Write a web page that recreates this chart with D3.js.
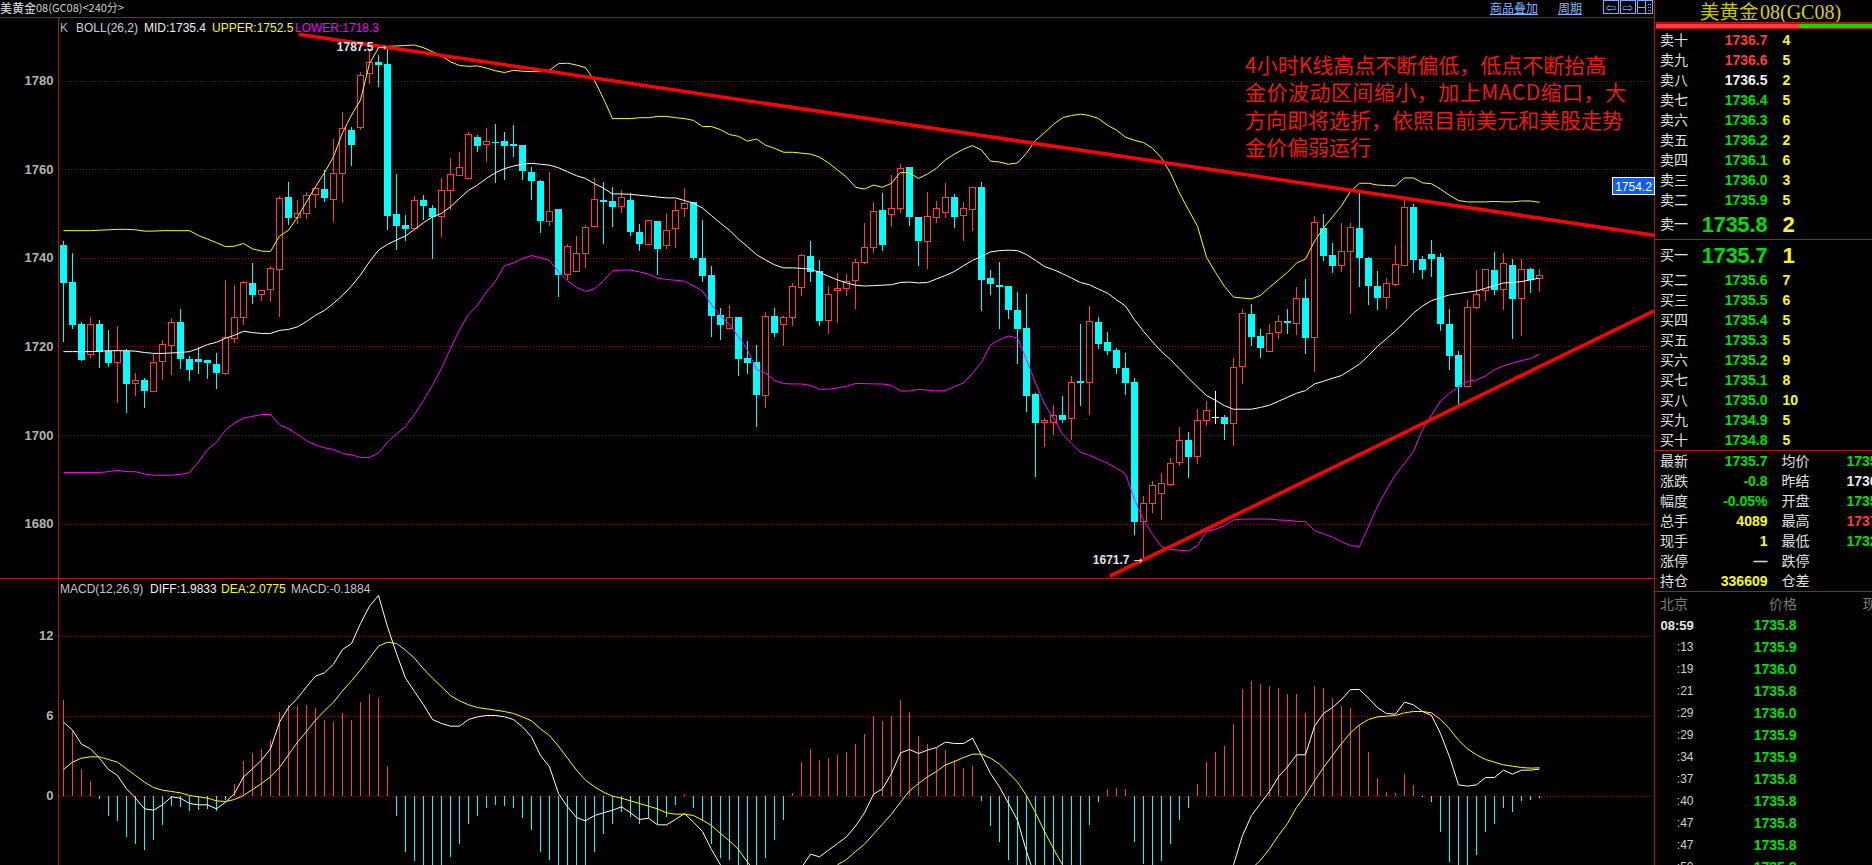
<!DOCTYPE html>
<html>
<head>
<meta charset="utf-8">
<script src="https://cdn.jsdelivr.net/npm/d3@7"></script>
<style>
  html, body { margin: 0; padding: 0; background: #000; overflow: hidden; }
  svg { display: block; }
  text { font-family: "Liberation Sans", "Noto Sans CJK SC", sans-serif; }
  .cjk { font-family: "Noto Sans CJK SC", sans-serif; }
  .axis path { display: none; }
  .axis line { stroke: #8c0a0a; stroke-dasharray: 1 2; shape-rendering: crispEdges; }
  .axis text { fill: #b4b4b4; font-size: 13px; font-weight: bold; }
</style>
</head>
<body>
<svg id="chart" width="1872" height="865"></svg>
<script>
// candles
const opens = [
  1742.8,1734.5,1725,1718.1,1725,1719,1716.3,1719,1711.5,1712.3,
  1709.9,1716.6,1720.1,1725.4,1717.2,1717.2,1716.8,1716.1,1713.8,1721.8,
  1726.5,1734.4,1731.6,1732.8,1737.3,1753.6,1749.1,1750,1754.3,1755.5,
  1753.1,1759,1768.8,1769.3,1781.5,1784.1,1783.7,1749.8,1747.3,1746.5,
  1753,1751.2,1749.2,1755.1,1758.5,1757.8,1767.2,1765.6,1766.2,1766.3,
  1765.6,1765.4,1759.3,1757.3,1748.1,1751,1736.1,1736.9,1740.9,1747,
  1753.1,1752.9,1751.6,1753.1,1745.9,1743,1748.3,1742.8,1746.5,1751,
  1752.6,1740,1736.1,1727.1,1724,1726.7,1717.4,1716.5,1708.9,1726.9,
  1724.9,1726.5,1733.3,1740.4,1737,1725.8,1732.6,1733.1,1734.9,1738.9,
  1742.2,1750.8,1749.8,1751,1760.4,1749.2,1743.7,1749.1,1750.2,1753.8,
  1749.5,1750.9,1756,1735.5,1733.9,1733.7,1728.2,1724.2,1709.3,1702.8,
  1702.7,1704.5,1703.7,1712.2,1711.8,1725.5,1721,1719.2,1715.2,1712,
  1680.4,1684.6,1686.8,1688.8,1693.8,1698.9,1695.1,1703.3,1704,1704.1,
  1702.6,1715.5,1727.3,1722.4,1718.8,1723.1,1725.8,1725.2,1731,1722,
  1746.8,1740.7,1738.3,1741.3,1746.8,1740,1733.7,1731,1733.9,1738.3,
  1751.5,1739.8,1740.9,1740.2,1725.1,1718.1,1710.9,1728.7,1732.5,1737.3,
  1732.8,1738.4,1730.8,1737.5,1735.3
];
const closes = [
  1734.3,1724.8,1716.9,1725,1718.8,1716.3,1719,1711.5,1712.3,1709.9,
  1716.3,1720.4,1725.4,1717.2,1714.7,1716.5,1716.3,1714,1722,1726.5,
  1734.4,1731.5,1732.6,1737.5,1753.4,1749,1750,1754,1755.6,1753.4,
  1759,1769.2,1765.5,1781.1,1784.1,1783.5,1749.4,1747.1,1746.4,1752.9,
  1751.6,1749.1,1755.2,1758.8,1760.4,1767.8,1765.3,1766.2,1766,1765.2,
  1765.2,1759.5,1757.4,1748.3,1750.4,1736.1,1742.5,1740.9,1746.8,1753.1,
  1752.6,1751.5,1753.7,1745.7,1743,1748.3,1742,1746.2,1750.7,1752.3,
  1740,1735.9,1726.9,1724.9,1726.6,1717.2,1716.3,1709.1,1726.8,1723.1,
  1726.6,1733.4,1740.4,1736.8,1725.8,1731.6,1733.1,1734.6,1739,1742.2,
  1750.5,1742.9,1751,1760.2,1749.2,1743.7,1749.2,1751,1753.5,1749.2,
  1751,1755.9,1735,1734.1,1733.4,1728.2,1724,1708.8,1702.7,1703.3,
  1704.4,1703.4,1711.9,1711.8,1725.5,1720.6,1719,1715,1711.8,1680.4,
  1684.6,1688.6,1689.1,1693.6,1698.8,1695.1,1703.3,1705.4,1704,1702.5,
  1715.3,1727.3,1722.2,1719.7,1723,1725.7,1725.3,1730.9,1721.9,1748,
  1740.4,1738.2,1741.5,1746.8,1740,1733.7,1731,1734.1,1738.4,1751.4,
  1739.5,1737.3,1739.8,1725.1,1717.9,1710.9,1728.8,1731.8,1737.4,1732.8,
  1738.6,1730.7,1737.4,1735,1735.9
];
const highs = [
  1743.7,1741,1725.4,1726.6,1725.9,1723.6,1724.5,1719.5,1713.9,1712.8,
  1718.2,1721.5,1726.4,1728.4,1717.9,1719.9,1717,1718.6,1734.9,1733.8,
  1734.8,1738.7,1732.8,1738.2,1754,1757,1753,1754.9,1756,1759.8,
  1766.7,1772.9,1769.5,1781.9,1786.8,1785.7,1787.5,1758.9,1749.6,1753.9,
  1754.1,1751.9,1758.1,1762.5,1763.8,1768.3,1767.7,1769.2,1770.1,1768.3,
  1769.9,1765.4,1760.4,1757.5,1759.3,1751,1743,1744.9,1747.3,1758,
  1757.2,1755.9,1755.3,1754.6,1747.7,1748.5,1748.3,1750.1,1753.1,1755.7,
  1752.6,1748.6,1738.2,1728.7,1729.4,1726.7,1721.2,1720.3,1727.8,1728.7,
  1726.9,1734.3,1740.9,1743.8,1739.5,1733.7,1736.5,1736.4,1739.7,1747.9,
  1752.6,1754.6,1758.6,1761.2,1760.5,1749.2,1754.9,1752.9,1756.9,1754.4,
  1752.6,1755.9,1757.1,1737.3,1739.1,1733.7,1732.3,1731.9,1709.5,1703.9,
  1706.8,1708.8,1713.3,1725.1,1729.2,1726.7,1723.2,1719.6,1718.5,1712.9,
  1686.2,1689.6,1691.3,1694.7,1701.8,1700.7,1705.9,1707.7,1710,1704.5,
  1717.3,1728.5,1729.6,1724,1725.1,1727.1,1728.5,1733.4,1735.2,1749.5,
  1749.9,1743.4,1747.9,1747.8,1755.1,1740.2,1737,1735.5,1742.9,1753.1,
  1752.2,1740.4,1744,1741.1,1728.5,1719,1730.5,1737.3,1737.4,1741.3,
  1741.1,1739.8,1739.8,1737.7,1737.5
];
const lows = [
  1721,1724,1716.7,1717.4,1715.1,1715.4,1707.2,1705,1708.8,1706.1,
  1709.7,1712.4,1713.5,1714.8,1712.2,1713.7,1712.6,1710.4,1713.6,1720.8,
  1724.8,1729.5,1730.3,1730,1726.7,1747.3,1747.7,1748.8,1751.3,1752.6,
  1748.1,1752.4,1760.7,1768.9,1779.2,1778.5,1746.2,1741.7,1743.8,1746.4,
  1748.5,1739.6,1744.7,1750.7,1758.5,1757.8,1763.8,1761.6,1756.9,1757.5,
  1762.7,1757.5,1753,1745.6,1747.1,1731.2,1734.9,1736.9,1737.6,1747,
  1743.1,1747,1750.1,1744.8,1741.4,1742.8,1736.1,1742,1742.2,1749.3,
  1739.4,1734.6,1722.2,1721.5,1724,1713.2,1713.8,1701.7,1706,1722.2,
  1720,1724.5,1731.3,1734.6,1724.5,1722.7,1725.3,1731.3,1728.5,1738.6,
  1741.1,1741.6,1747,1750,1747.2,1738.2,1737.5,1747.9,1749,1746.8,
  1743.8,1746.1,1728,1731.6,1724,1726.2,1716,1705.2,1690.4,1697.3,
  1700,1702.7,1698.9,1706.6,1704.5,1719.4,1718.1,1713.8,1709.1,1677.5,
  1671.7,1682.3,1680.8,1688.4,1693,1690.2,1693.5,1702.1,1702.5,1698.9,
  1697.5,1711.5,1720.1,1717.4,1718.8,1721.7,1722.8,1722.6,1718.3,1714.3,
  1739.3,1736.6,1736.8,1727.3,1733.4,1729.4,1728.2,1728.5,1733.7,1738.3,
  1736.6,1735.2,1735.7,1723.5,1714.7,1706.1,1710.9,1728.5,1730.3,1731.6,
  1728.2,1721.7,1722.4,1732.1,1732.3
];

// BOLL(26,2)
const bollMid = [
  1718.8,1718.8,1718.8,1718.8,1718.9,1719,1719,1719,1718.9,1718.6,
  1718.4,1718.4,1718.5,1718.6,1718.8,1719.5,1720.4,1720.9,1721.8,1722.5,
  1723.4,1723.1,1722.9,1722.9,1723.6,1723.8,1724.4,1725.6,1727,1728.1,
  1729.7,1731.5,1733.6,1736.1,1739.1,1741.7,1743,1744,1744.9,1746.4,
  1747.9,1749.2,1750,1751.5,1753.4,1755.2,1756.4,1757.9,1759.2,1760.1,
  1760.7,1761.1,1761.3,1761.1,1760.9,1760.3,1759.4,1758.5,1757.9,1756.7,
  1755.7,1754.4,1754.4,1754.3,1754.1,1753.9,1753.7,1753.5,1753.5,1752.9,
  1752.3,1751.2,1749.5,1747.8,1746.2,1744.2,1742.5,1740.7,1739.5,1738.4,
  1737.7,1737.7,1737.6,1737.4,1736.7,1735.8,1735,1734.3,1733.8,1733.6,
  1733.7,1733.8,1733.9,1734.4,1734.5,1734.3,1734.4,1735.2,1736,1736.9,
  1738.2,1739.4,1740.3,1741.3,1741.6,1741.7,1741.6,1740.7,1739.4,1738,
  1737.3,1736.4,1735.4,1734.4,1733.9,1732.9,1732,1730.5,1729.1,1726,
  1723.4,1721,1718.8,1717,1714.9,1712.8,1710.8,1708.9,1707.8,1706.6,
  1705.8,1705.8,1705.8,1706.2,1706.7,1707.6,1708.5,1709.4,1710,1711.5,
  1712.1,1712.8,1713.4,1714.7,1716,1717.9,1720,1721.7,1723.5,1725.4,
  1727.5,1729.1,1730.3,1731,1731.6,1731.9,1732.2,1732.5,1733.1,1733.7,
  1734.3,1734.4,1734.6,1735,1735.4
];
const bollUpper = [
  1746.1,1746.1,1746.1,1746.1,1746.2,1746.3,1746.4,1746.4,1746.3,1746,
  1746,1746.1,1746.1,1746.1,1746.1,1745,1744.2,1743.4,1742.5,1742.6,
  1743.2,1742,1741.5,1741.4,1744.9,1746.2,1749.2,1752.6,1756,1759.2,
  1762.8,1768.2,1772.2,1775.6,1783.8,1787.4,1787.7,1787.8,1787.9,1788,
  1787.4,1786.5,1785.6,1784.2,1783.4,1783.2,1783.3,1782.8,1782.2,1781.8,
  1782.3,1782.1,1782,1782,1782.3,1783.8,1783.9,1783.5,1782.9,1780,
  1775.9,1771.4,1771.4,1771.4,1771.6,1771.6,1771.9,1771.9,1771.6,1771.4,
  1771,1769.6,1769.6,1768.9,1767.8,1767.4,1766.3,1766.8,1765.4,1764.7,
  1763.8,1763.8,1763.6,1763.4,1762.7,1761.4,1759.8,1758.2,1755.9,1755.5,
  1756.4,1755.9,1756.8,1759.3,1759.1,1757.9,1758.9,1760.2,1762.1,1763.4,
  1764.5,1765.3,1764.3,1761.8,1761.6,1761.1,1761.4,1763.6,1766.5,1768.2,
  1770.1,1771.6,1772.1,1772.4,1772.1,1771.4,1769.9,1768.8,1767.2,1766.5,
  1766,1764.7,1762.5,1759.1,1754.6,1750.8,1747.1,1740.1,1736.7,1733.5,
  1731.1,1730.9,1730.7,1731.5,1733.3,1735,1736.7,1738.8,1739.7,1743.7,
  1746.7,1749.2,1751.7,1755,1756.8,1756.8,1756.4,1756.3,1756.2,1758,
  1758,1756.9,1756.7,1755.5,1754.1,1752.9,1752.6,1752.6,1752.6,1752.7,
  1752.6,1752.6,1752.8,1752.8,1752.5
];
const bollLower = [
  1691.5,1691.5,1691.5,1691.5,1691.5,1691.7,1692,1691.7,1691.7,1691.2,
  1690.9,1690.9,1690.9,1691.1,1691.5,1693.9,1696.7,1698.3,1701.1,1702.7,
  1703.8,1704.2,1704.6,1704.6,1702.3,1701.4,1700.1,1698.7,1697.7,1697.1,
  1696.7,1695.8,1695.5,1694.9,1694.9,1695.9,1698.4,1700.2,1701.9,1704.6,
  1707.8,1711.2,1715,1719.5,1723.7,1727.2,1729.3,1732.3,1734.7,1738.2,
  1738.8,1739.8,1740.5,1740,1739.4,1736.8,1734.8,1733.3,1732.4,1733,
  1734.8,1737,1737.2,1737.2,1736.8,1736.3,1735.4,1735.1,1734.9,1734.7,
  1733.6,1732.5,1729.4,1726.9,1724.9,1722.2,1719.2,1714.8,1714,1712.3,
  1711.6,1711.5,1711.5,1711.2,1710.3,1710.3,1710.6,1711,1711.6,1711.6,
  1711.5,1711.5,1711.2,1709.9,1709.9,1710.3,1710.1,1709.9,1710,1710.9,
  1711.7,1713.9,1716.4,1720.3,1721.5,1722.3,1721.9,1717,1711.7,1707,
  1703.8,1700.2,1698.1,1696.1,1695.4,1694.5,1693.6,1692.5,1691.2,1685.4,
  1680.8,1677.5,1674.8,1674.1,1674,1673.8,1675,1678.2,1678.7,1679.5,
  1680.8,1681,1681,1681,1681,1680.8,1680.7,1680.5,1680.4,1678.4,
  1677.7,1676.9,1675.9,1675,1674.8,1679.3,1683.9,1687.6,1691,1693.6,
  1696.3,1701.2,1704.5,1707.6,1709.4,1710.9,1712.1,1712.4,1713.3,1714.7,
  1715.6,1716.2,1716.8,1717.2,1718.3
];

// MACD(12,26,9), values under about -5.2 run off the bottom of the window
const diff = [
  5.5,4.9,3.85,3.5,2.8,1.95,1.5,0.5,-0.2,-1,
  -1.1,-0.7,-0.1,-0.2,-0.6,-0.7,-0.7,-1,-0.5,0.15,
  1.4,2,2.65,3.5,5.5,6.6,7.3,8.15,8.95,9.2,
  9.85,10.95,11.4,12.9,14.2,15,12.65,10.65,8.8,7.8,
  6.8,5.7,5.4,5.2,5.2,5.7,5.9,6,6,5.9,
  5.7,5.15,4.4,3,2.15,0.15,-0.85,-1.65,-1.9,-1.5,
  -1.3,-1.1,-0.85,-1.3,-1.8,-1.7,-2.2,-2.2,-1.8,-1.35,
  -2,-2.7,-4.05,-5.2,-6.2,-7.2,-8,-8.7,-9.2,-9.4,
  -8.5,-7,-5.4,-4.4,-4.6,-4.1,-3.6,-3.1,-2.3,-1.3,
  0.1,0.5,1.65,3.2,3.45,3.15,3.4,3.6,4,3.9,
  3.9,4.3,3,1.65,0.65,-0.6,-1.85,-4.2,-6.2,-7.5,
  -8.5,-9.5,-10.5,-11,-11.5,-11.6,-11.4,-11.2,-11,-11.5,
  -12,-12.5,-12.6,-12.2,-11.6,-11,-10.3,-9.4,-8.5,-7.6,
  -5.2,-3,-1.5,-0.6,0.3,1.4,2.15,3.05,3.05,5.2,
  6.15,6.6,7.2,7.95,7.95,7.3,6.6,6.15,6.1,7,
  6.8,6.3,6,4.65,2.9,0.8,0.7,0.8,1.35,1.35,
  1.9,1.6,1.9,1.9,1.98
];
const dea = [
  1.95,2.5,2.8,2.9,2.9,2.7,2.5,2,1.5,1,
  0.6,0.4,0.3,0.2,0,-0.1,-0.2,-0.4,-0.45,-0.3,
  0,0.45,0.9,1.4,2.1,3.05,4,4.8,5.65,6.35,
  7,7.85,8.6,9.4,10.3,11.2,11.5,11.4,10.9,10.3,
  9.5,8.8,8.15,7.5,7.1,6.8,6.6,6.5,6.4,6.3,
  6.15,5.9,5.6,5,4.5,3.7,2.8,1.9,1.15,0.65,
  0.25,-0.05,-0.2,-0.4,-0.6,-0.8,-1,-1.3,-1.4,-1.4,
  -1.5,-1.85,-2.25,-2.85,-3.4,-4.05,-5,-5.8,-6.4,-6.9,
  -7.3,-7.4,-7.3,-6.9,-6.6,-6.1,-5.2,-4.8,-4.2,-3.65,
  -2.9,-2.15,-1.4,-0.5,0.35,0.9,1.4,1.8,2.3,2.55,
  2.85,3.1,3.1,2.8,2.35,1.7,1,0,-1.3,-2.7,
  -4,-5.2,-6.2,-7.2,-7.9,-8.6,-9.1,-9.5,-9.8,-10,
  -10.3,-10.5,-10.8,-10.9,-10.8,-10.6,-10.4,-10,-9.6,-9,
  -8.2,-6.8,-5.5,-4.85,-4,-3,-2.1,-0.9,0,1.1,
  2.1,3,3.9,4.7,5.3,5.7,5.9,5.95,6,6.2,
  6.3,6.3,6.2,5.7,5,4.15,3.5,3.05,2.7,2.5,
  2.3,2.2,2.1,2.05,2.08
];
const macdBars = [
  7.2,4.9,2,1.1,-0.25,-1.5,-1.9,-3.1,-3.6,-4.1,
  -3.3,-2.2,-0.8,-0.85,-1.15,-1.05,-1,-1.15,-0.3,0.9,
  2.6,3.2,3.5,4.15,6.3,6.8,6.7,6.8,6.55,5.7,
  5.5,6.2,5.7,7,7.6,7.3,2.2,-1.55,-4.2,-4.9,
  -5.6,-5.9,-5.6,-4.6,-3.65,-2.15,-1.5,-0.95,-0.7,-0.8,
  -0.9,-1.7,-2.6,-4.2,-4.85,-5.6,-5.6,-5.6,-5.6,-4.2,
  -2.9,-2.15,-1.25,-1.6,-2.15,-1.7,-2.1,-1.6,-0.7,0.1,
  -0.9,-1.9,-3.6,-4.7,-4.85,-5.6,-5.6,-5.6,-4.7,-3.35,
  -1.8,0.2,2.5,3.5,2.65,2.8,3.05,3.3,3.9,4.6,
  5.95,5.6,6,7.2,6.25,4.5,3.9,3.6,3.4,2.65,
  2.05,2.2,-0.4,-2.3,-3.5,-4.8,-5.6,-5.6,-5.6,-5.6,
  -5.6,-5.6,-5.6,-5.6,-2.2,-0.5,0.5,0.6,0.5,-3.5,
  -5.15,-5.6,-4.9,-3.65,-1.85,-0.9,0.9,2.5,3.3,3.7,
  5.4,8,8.6,8.35,8.2,8.1,7.65,7.65,6.2,8.2,
  8.1,7.3,6.7,6.6,5.3,3.25,1.3,0.3,0.2,1.6,
  0.8,-0.1,-0.5,-2.7,-5,-5.6,-5.6,-4.45,-2.75,-2.15,
  -0.95,-1.2,-0.4,-0.35,-0.19
];

const priceTicks = [1780, 1760, 1740, 1720, 1700, 1680];
const macdTicks = [12, 6, 0];

// hand drawn trend lines, [candle index, price] at each end
const trendLines = [
  [[26.13, 1790.45], [176.74, 1745.08]],
  [[116.26, 1668.1], [176.74, 1728.0]]
];
const annotation = [
  '4小时K线高点不断偏低，低点不断抬高',
  '金价波动区间缩小，加上MACD缩口，大',
  '方向即将选折，依照目前美元和美股走势',
  '金价偏弱运行'
];

// quote panel
const prevSettle = 1736.5;
const askLabels = ['卖十', '卖九', '卖八', '卖七', '卖六', '卖五', '卖四', '卖三', '卖二', '卖一'];
const askPrices = [1736.7, 1736.6, 1736.5, 1736.4, 1736.3, 1736.2, 1736.1, 1736.0, 1735.9, 1735.8];
const askSizes = [4, 5, 2, 5, 6, 2, 6, 3, 5, 2];
const bidLabels = ['买一', '买二', '买三', '买四', '买五', '买六', '买七', '买八', '买九', '买十'];
const bidPrices = [1735.7, 1735.6, 1735.5, 1735.4, 1735.3, 1735.2, 1735.1, 1735.0, 1734.9, 1734.8];
const bidSizes = [1, 7, 6, 5, 5, 9, 8, 10, 5, 5];
const statLabelsL = ['最新', '涨跌', '幅度', '总手', '现手', '涨停', '持仓'];
const statValuesL = ['1735.7', '-0.8', '-0.05%', '4089', '1', '—', '336609'];
const statColorsL = ['#00e000', '#00e000', '#00e000', '#ffff00', '#ffff00', '#d0d0d0', '#ffff00'];
const statLabelsR = ['均价', '昨结', '开盘', '最高', '最低', '跌停', '仓差'];
const statValuesR = ['1735', '1736', '1735', '1737', '1732', '', ''];
const statColorsR = ['#00e000', '#e8e8e8', '#00e000', '#ff3c3c', '#00e000', '#d0d0d0', '#d0d0d0'];
const tickTimes = ['08:59', ':13', ':19', ':21', ':29', ':29', ':34', ':37', ':40', ':47', ':47', ':50'];
const tickPrices = [1735.8, 1735.9, 1736.0, 1735.8, 1736.0, 1735.9, 1735.9, 1735.8, 1735.8, 1735.8, 1735.8, 1735.8];

const width = 1872, height = 865;
const plotLeft = 58.5, plotRight = 1654.5, plotTop = 17.5, split = 578.5;
const lineRed = '#b8120a', cyan = '#00ffff', upRed = '#ff3c3c';

const svg = d3.select('#chart');

const x = d3.scaleLinear().domain([0, 164]).range([63.5, 1539.5]);
const y = d3.scaleLinear().domain([1780, 1680]).range([80.5, 523.5]);
const yMacd = d3.scaleLinear().domain([12, 0]).range([635.5, 795.5]);

const defs = svg.append('defs');
defs.append('clipPath').attr('id', 'plot')
  .append('rect').attr('x', plotLeft).attr('y', plotTop).attr('width', plotRight - plotLeft).attr('height', height - plotTop);

// grid + tick labels
svg.append('g').attr('class', 'axis')
  .attr('transform', `translate(${plotLeft},0)`)
  .call(d3.axisLeft(y).tickValues(priceTicks).tickSize(-(plotRight - plotLeft)).tickPadding(5).tickFormat(d3.format('d')));
svg.append('g').attr('class', 'axis')
  .attr('transform', `translate(${plotLeft},0)`)
  .call(d3.axisLeft(yMacd).tickValues(macdTicks).tickSize(-(plotRight - plotLeft)).tickPadding(5).tickFormat(d3.format('d')));

// frame
const frame = svg.append('g').attr('stroke', lineRed).attr('shape-rendering', 'crispEdges');
frame.append('line').attr('x1', 0).attr('x2', plotRight).attr('y1', plotTop).attr('y2', plotTop);
frame.append('line').attr('x1', 0).attr('x2', plotRight).attr('y1', split).attr('y2', split).attr('stroke-width', 1.5);
frame.append('line').attr('x1', plotLeft).attr('x2', plotLeft).attr('y1', plotTop).attr('y2', height);
frame.append('line').attr('x1', plotRight).attr('x2', plotRight).attr('y1', 0).attr('y2', height);

const plot = svg.append('g').attr('clip-path', 'url(#plot)');

// candles
const rows = opens.map((o, i) => ({ i, o, c: closes[i], h: highs[i], l: lows[i] }));
const candleColor = d => d.c > d.o ? upRed : d.c < d.o ? cyan : '#ffffff';
const candle = plot.append('g').attr('shape-rendering', 'crispEdges')
  .selectAll('g').data(rows).enter().append('g');
candle.append('line')
  .attr('x1', d => x(d.i)).attr('x2', d => x(d.i))
  .attr('y1', d => y(d.h)).attr('y2', d => y(d.l))
  .attr('stroke', candleColor);
candle.filter(d => d.c > d.o).append('rect')
  .attr('x', d => x(d.i) - 3).attr('width', 6)
  .attr('y', d => y(d.c)).attr('height', d => y(d.o) - y(d.c))
  .attr('fill', '#000').attr('stroke', upRed);
candle.filter(d => d.c < d.o).append('rect')
  .attr('x', d => x(d.i) - 3.5).attr('width', 7)
  .attr('y', d => y(d.o)).attr('height', d => Math.max(1, y(d.c) - y(d.o)))
  .attr('fill', cyan);
candle.filter(d => d.c === d.o).append('line')
  .attr('x1', d => x(d.i) - 3.5).attr('x2', d => x(d.i) + 3.5)
  .attr('y1', d => y(d.o)).attr('y2', d => y(d.o))
  .attr('stroke', '#ffffff');

// boll lines
const bollLine = d3.line().x((d, i) => x(i)).y(d => y(d));
[[bollMid, '#ffffff'], [bollUpper, '#ffff00'], [bollLower, '#ff00ff']].forEach(([values, color]) => {
  plot.append('path').datum(values).attr('d', bollLine)
    .attr('fill', 'none').attr('stroke', color).attr('stroke-width', 1);
});

// macd histogram + lines
plot.append('g').attr('shape-rendering', 'crispEdges')
  .selectAll('line').data(macdBars).enter().append('line')
  .attr('x1', (d, i) => x(i)).attr('x2', (d, i) => x(i))
  .attr('y1', yMacd(0)).attr('y2', d => yMacd(d))
  .attr('stroke', d => d >= 0 ? upRed : cyan);
const macdLine = d3.line().x((d, i) => x(i)).y(d => yMacd(d));
[[diff, '#ffffff'], [dea, '#ffff00']].forEach(([values, color]) => {
  plot.append('path').datum(values).attr('d', macdLine)
    .attr('fill', 'none').attr('stroke', color).attr('stroke-width', 1);
});

// trend lines
const trend = d3.line().x(d => x(d[0])).y(d => y(d[1]));
defs.append('clipPath').attr('id', 'trendClip')
  .append('rect').attr('x', 0).attr('y', 0).attr('width', plotRight).attr('height', height);
svg.append('g').attr('clip-path', 'url(#trendClip)')
  .selectAll('path').data(trendLines).enter().append('path')
  .attr('d', trend).attr('fill', 'none').attr('stroke', '#ff0000').attr('stroke-width', 3.6);

// high / low markers, on top of the trend lines
[[36, highs[36]], [120, lows[120]]].forEach(([i, price]) => {
  svg.append('text').attr('x', x(i) - 14).attr('y', y(price)).attr('dy', '0.35em')
    .attr('text-anchor', 'end').attr('fill', '#dfe6ee')
    .attr('font-size', 12).attr('font-weight', 'bold').text(price.toFixed(1));
  svg.append('text').attr('x', x(i) - 1).attr('y', y(price)).attr('dy', '0.35em')
    .attr('text-anchor', 'end').attr('fill', '#c8d0d8')
    .attr('font-size', 11).style('font-family', 'DejaVu Sans').text('→');
});

// helper for plain labels
function label(parent, px, py, str, color, size, opts = {}) {
  return parent.append('text')
    .attr('x', px).attr('y', py).attr('dy', '0.36em')
    .attr('fill', color).attr('font-size', size)
    .attr('text-anchor', opts.anchor || 'start')
    .attr('font-weight', opts.bold ? 'bold' : 'normal')
    .attr('class', opts.cjk ? 'cjk' : null)
    .attr('text-decoration', opts.underline ? 'underline' : null)
    .text(str);
}

// headers
label(svg, 0, 8.5, '美黄金', '#e8e8e8', 12, { cjk: true });
label(svg, 36, 8.5, '08(GC08)<240分>', '#d0d0d0', 11, { cjk: true });
label(svg, 60, 28, 'K', '#9fb6cc', 12);
label(svg, 76, 28, 'BOLL(26,2)', '#c8d4e0', 12);
label(svg, 144, 28, 'MID:1735.4', '#f0f0f0', 12);
label(svg, 212, 28, 'UPPER:1752.5', '#ffff00', 12);
label(svg, 295, 28, 'LOWER:1718.3', '#ff00ff', 12);
label(svg, 60, 589, 'MACD(12,26,9)', '#c0c8d0', 12);
label(svg, 150, 589, 'DIFF:1.9833', '#f0f0f0', 12);
label(svg, 221, 589, 'DEA:2.0775', '#ffff00', 12);
label(svg, 291, 589, 'MACD:-0.1884', '#c0c8d0', 12);

label(svg, 1490, 8.5, '商品叠加', '#80b8ff', 12, { cjk: true, underline: true });
label(svg, 1558, 8.5, '周期', '#80b8ff', 12, { cjk: true, underline: true });
const buttons = svg.append('g');
[[1603.5, '⇦'], [1620.5, '⇨'], [1637.5, '']].forEach(([bx, glyph]) => {
  buttons.append('rect').attr('x', bx).attr('y', 0.5).attr('width', 15).attr('height', 13)
    .attr('fill', 'none').attr('stroke', '#70b0ff').attr('shape-rendering', 'crispEdges');
  if (glyph) {
    buttons.append('text').attr('x', bx + 7.5).attr('y', 7).attr('dy', '0.36em')
      .attr('text-anchor', 'middle').attr('fill', '#70b0ff').attr('font-size', 13)
      .style('font-family', 'DejaVu Sans').text(glyph);
  }
});
buttons.append('path').attr('d', 'M1645.5 1V13M1638 7H1645')
  .attr('stroke', '#70b0ff').attr('shape-rendering', 'crispEdges');
buttons.append('path').attr('d', 'M1648 4H1652M1648 7H1652M1648 10H1652')
  .attr('stroke', '#70b0ff').attr('stroke-dasharray', '1 1').attr('shape-rendering', 'crispEdges');

// red note, the second line runs a little wider in the original font
annotation.forEach((line, i) => {
  const note = label(svg, 1245, 65 + i * 27.6, line, '#f01a0a', 21, { cjk: true });
  if (i === 1) note.attr('textLength', 381).attr('lengthAdjust', 'spacing');
});

// last price tag
svg.append('rect').attr('x', 1612.5).attr('y', y(1754.2) - 17.5).attr('width', 42).attr('height', 17.5)
  .attr('fill', '#0d5ff0').attr('stroke', '#ffffff').attr('shape-rendering', 'crispEdges');
label(svg, 1633.5, y(1754.2) - 8.5, '1754.2', '#ffffff', 12, { anchor: 'middle' });

// quote panel
const panel = svg.append('g');
const rule = py => panel.append('line').attr('x1', plotRight).attr('x2', width).attr('y1', py).attr('y2', py)
  .attr('stroke', lineRed).attr('shape-rendering', 'crispEdges');
label(panel, 1700, 11.5, '美黄金', '#c8c400', 19.5, { cjk: true });
label(panel, 1760, 11.5, '08(GC08)', '#d8d400', 20).style('font-family', 'Liberation Serif');
panel.append('rect').attr('x', 1656).attr('y', 23.5).attr('width', 143).attr('height', 5).attr('fill', '#ff3c3c');
panel.append('rect').attr('x', 1799).attr('y', 23.5).attr('width', 73).attr('height', 5).attr('fill', '#00e000');
rule(22.5); rule(28.5); rule(239.5); rule(450.5); rule(591.5);

const quoteColor = p => p > prevSettle ? '#ff3c3c' : p === prevSettle ? '#f0f0f0' : '#00e000';
function bookRow(py, name, price, size, big) {
  label(panel, 1660, py, name, '#e0e0e0', 14, { cjk: true });
  label(panel, 1767.5, py, price.toFixed(1), quoteColor(price), big ? 21.5 : 14, { anchor: 'end', bold: true });
  label(panel, 1782.5, py, size, '#ffff00', big ? 22 : 14, { bold: true });
}
askLabels.forEach((name, i) => {
  const big = i === 9;
  bookRow(big ? 224 : 39.5 + i * 20, name, askPrices[i], askSizes[i], big);
});
bidLabels.forEach((name, i) => {
  const big = i === 0;
  bookRow(big ? 255 : 260 + i * 20, name, bidPrices[i], bidSizes[i], big);
});

statLabelsL.forEach((name, i) => {
  const py = 461 + i * 20;
  label(panel, 1660, py, name, '#e0e0e0', 14, { cjk: true });
  label(panel, 1767.5, py, statValuesL[i], statColorsL[i], 14, { anchor: 'end', bold: true });
  label(panel, 1781.5, py, statLabelsR[i], '#e0e0e0', 14, { cjk: true });
  if (statValuesR[i]) label(panel, 1846.5, py, statValuesR[i], statColorsR[i], 14, { bold: true });
});

label(panel, 1660, 603.5, '北京', '#7a7a7a', 14, { cjk: true });
label(panel, 1769, 603.5, '价格', '#7a7a7a', 14, { cjk: true });
label(panel, 1862.5, 603.5, '现', '#7a7a7a', 14, { cjk: true });
tickTimes.forEach((t, i) => {
  const py = 625 + i * 22;
  if (i === 0) label(panel, 1660.5, py, t, '#e8e8e8', 13, { bold: true });
  else label(panel, 1693.5, py, t, '#d0d0d0', 12, { anchor: 'end' });
  label(panel, 1796.5, py, tickPrices[i].toFixed(1), quoteColor(tickPrices[i]), 14, { anchor: 'end', bold: true });
});
</script>
</body>
</html>
